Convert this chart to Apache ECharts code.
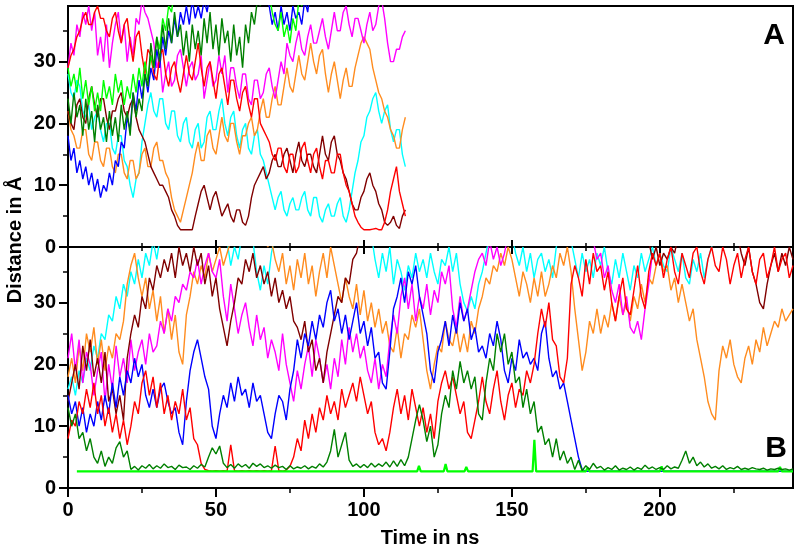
<!DOCTYPE html>
<html><head><meta charset="utf-8">
<script src="https://cdn.jsdelivr.net/npm/echarts@6/dist/echarts.min.js"></script>
<style>html,body{margin:0;padding:0;background:#fff}#c{width:800px;height:552px}</style>
</head><body><div id="c"></div>
<script>
// ---- sampling grids (ns) ----
const topTime = []; for (let i = 0; i <= 114; i++) topTime.push(i);
const botTime = []; for (let i = 0; i <= 196; i++) botTime.push(i * 1.25);

// ---- panel A values (Å), one every 1 ns (values above 39 run off the top of the frame) ----
const aBlue = [18,14,16,12,14,11,13,10,12,9, 11,8,10,9,12,10,14,13,17,16, 21,19,25,22,27,24,28,25,29,27, 32,29,34,31,35,33,37,34,38,36, 39,36,40,37,39,37,40,38,41,40, 43,42,44,43,45,44,46,45,46,45, 45,44,46,44,43,42,43,40,39,36, 38,35,39,36,38,35,39,37,38,36, 40,38,42,41,44,43,45,44,46,45, 46,45,46,45,46,45,46,45,46,45, 46,45,46,45,46,45,46,45,46,45, 46,45,46,45,46];
const aDkGreen = [24,20,25,21,23,18,24,19,22,17, 23,19,21,17,22,18,21,17,23,19, 22,18,25,21,24,22,28,26,33,29, 34,30,36,32,37,33,38,34,36,31, 35,30,36,32,35,31,37,33,38,32, 36,31,37,33,35,30,36,31,34,29, 36,33,38,36,40,39,43,42,44,43, 45,44,45,44,45,44,45,44,45,44, 45,44,45,44,45,44,45,44,45,44, 45,44,45,44,45,44,45,44,45,44, 45,44,45,44,45,44,45,44,45,44, 45,44,45,44,45];
const aLime = [29,26,28,25,29,24,27,23,26,22, 25,22,27,24,26,23,28,25,27,23, 26,24,28,25,29,26,30,27,31,29, 34,32,37,35,39,38,42,41,44,43, 45,44,45,44,45,44,45,44,45,44, 45,44,45,44,45,44,45,44,45,44, 45,44,45,44,45,44,45,44,41,38, 36,35,38,34,36,33,37,35,40,39, 43,44,45,45,45,45,45,45,45,45, 45,45,45,45,45,45,45,45,45,45, 45,45,45,45,45,45,45,45,45,45, 45,45,45,45,45];
const aMagenta = [29,33,31,36,34,38,36,39,35,38, 31,34,30,36,29,33,36,38,33,36, 30,34,31,37,36,40,38,37,35,33, 29,31,25,28,30,26,27,31,32,29, 26,29,30,27,28,31,24,27,30,26, 27,31,28,31,25,29,29,26,24,28, 28,24,23,27,27,24,25,28,29,26, 24,27,30,28,33,31,30,33,35,32, 31,34,36,33,33,35,37,34,32,35, 38,35,35,38,39,36,34,37,37,35, 33,36,38,35,36,39,40,37,33,30, 30,32,32,34,35];
const aRed = [29,31,32,34,35,37,38,36,36,38, 39,37,37,35,34,37,38,35,33,36, 37,33,30,34,35,31,28,32,31,28, 27,31,32,28,26,29,30,27,25,28, 31,28,27,30,33,29,26,29,30,27, 24,28,29,26,23,27,27,24,22,25, 26,23,21,24,24,20,19,18,17,15, 14,16,16,13,12,15,15,12,13,16, 17,14,12,15,16,13,11,14,14,12, 12,15,15,12,10,9,7,5,4,3.2, 2.8,2.8,2.8,2.9,3,2.8,2.8,4,6,9, 11,13,9,7,5];
const aCyan = [28,25,24,27,26,22,21,23,19,21, 22,19,17,20,20,16,15,18,18,14, 13,10,8,11,12,17,20,23,25,22, 21,24,24,20,19,22,22,18,17,20, 21,17,16,19,20,16,17,21,22,19, 19,22,24,20,18,21,22,18,16,19, 20,16,15,18,19,15,14,12,10,8, 6,8,9,6,5,7,8,6,6,8, 9,6,5,8,8,5,4,6,7,5, 5,7,8,5,4,6,9,12,14,17, 18,21,22,24,25,22,20,22,23,19, 17,19,19,15,13];
const aOrange = [22,19,18,16,16,19,19,15,14,17, 17,14,13,16,16,13,12,15,15,12, 11,14,14,11,12,15,16,13,13,16, 17,14,14,12,11,8,6,5,4,6, 8,10,12,15,17,14,14,18,19,16, 15,18,21,18,17,20,20,17,15,18, 18,20,21,18,19,22,24,21,21,24, 26,23,23,26,29,26,25,28,31,28, 27,30,33,30,28,31,32,28,25,28, 30,27,24,27,29,26,26,29,31,33, 34,33,32,29,27,25,24,22,21,19, 18,16,16,19,21];
const aMaroon = [22,20,19,23,24,21,20,24,26,23, 21,24,24,21,19,22,22,24,25,22, 21,23,24,21,19,18,17,15,13,12, 11,10,10,9,8,6,5,3.5,2.8,2.8, 2.8,2.8,2.8,5,7,9,10,8,6,8, 9,7,5,6,7,5,4,6,6,4, 3.5,5,8,10,11,12,13,11,12,14, 15,13,13,15,16,14,12,15,17,14, 13,15,15,13,12,15,18,15,14,17, 18,15,14,12,11,9,7,6,6,8, 9,11,12,10,9,7,6,4,3.5,4, 5,3.5,3,5,6];

// ---- panel B values (Å), one every 1.25 ns (8 per 10 ns) ----
const bDkGreen = [13,10,12,8,9,6,8,5, 4,6,3.5,5,4,6.5,7.5,5, 6,3,3.5,2.9,3.6,3.2,3.8,3.1, 3.6,3.2,3.9,3.3,3.5,3,3.7,3.3, 3.4,3,3.6,3.2,3.8,3.4,5,6.5, 5.5,6.8,4,3.3,3.8,3.2,3.9,3.4, 3.8,3.2,4,3.5,3.9,3.3,3.6,3.2, 3.7,3.3,3.5,3,3.6,3.1,3.4,3.2, 3.6,3.1,3.5,3.2,3.9,3.4,4.2,6, 9.5,5,7,9,4.5,3.5,3.9,3.3, 3.8,3.3,4,3.4,3.9,3.5,4.2,3.4, 4.4,3.5,4.6,3.6,5,8,11,13.5, 11,7.5,10,5,7,12,15,13, 19,16,20.5,17,19,16,18,12, 11,17,21,19,25,22,25,20, 22,17,18,13,16,12,14,9, 10,7,8,5,8,4.5,6,4, 5,3,4.5,2.8,3.6,3,4,3.2, 3.5,2.9,3.3,3,3.6,2.9,3.2,3, 3.4,2.9,3.3,3,3.7,3.1,3.4,3, 3.3,3,3.6,3.1,3.4,3.2,4.5,6, 4,5,3.6,4.2,3.4,3.9,3.2,3.5, 3.1,3.6,3,3.3,3.1,3.5,3,3.2, 3,3.3,3.1,3,3.2,2.9,3.1,3, 3.2,3,3.1,2.9,3.1];
const bBlue = [15,12,14,10,13,9,12,10, 14,11,15,12,17,13,18,15, 19,17,21,18,20,15,13,16, 13,16,17,14,12,13,9,7, 14,19,22,24,21,18,16,10, 8,12,15,13,17,14,18,15, 16,13,17,14,15,12,9,8, 12,15,14,11,16,19,24,21, 25,23,27,24,28,26,30,32, 27,29,25,28,24,27,30,25, 27,23,26,21,22,17,16,22, 29,31,34,30,35,33,36,31, 28,25,19,17,22,24,27,23, 28,25,30,27,29,24,26,22, 23,21,25,23,27,24,19,17, 21,19,24,21,22,20,21,19, 25,27,21,18,19,16,17,14, 11,8,5,3,2.7,2.7,2.7,2.7, 2.7,2.7,2.7,2.7,2.7,2.7,2.7,2.7, 2.7,2.7,2.7,2.7,2.7,2.7,2.7,2.7, 2.7,2.7,2.7,2.7,2.7,2.7,2.7,2.7, 2.7,2.7,2.7,2.7,2.7,2.7,2.7,2.7, 2.7,2.7,2.7,2.7,2.7,2.7,2.7,2.7, 2.7,2.7,2.7,2.7,2.7,2.7,2.7,2.7, 2.7,2.7,2.7,2.7,2.7];
const bRed = [8,11,10,14,12,16,13,17, 12,15,10,13,9,12,8,11, 7,10,14,12,17,19,15,18, 13,17,12,15,11,14,12,16, 11,13,8,7,4,3,2.8,2.7, 2.8,2.7,2.8,2.7,7,2.8,2.7,2.8, 2.7,2.8,2.7,2.8,2.7,2.8,2.7,2.8, 6.8,2.8,2.7,2.9,3.5,5,8,6, 11,8,12,9,13,11,15,12, 14,11,16,13,15,17,14,18, 15,12,14,9,7,8,6,9, 13,16,12,15,11,16,13,10, 13,9,12,8,14,17,19,16, 18,15,12,14,9,8,11,14, 18,14,12,16,19,14,11,15, 17,13,16,15,19,17,20,25, 29,26,30,24,23,18,17,21, 33,36,34,31,37,33,38,35, 36,32,35,30,27,31,34,29, 28,32,36,31,29,35,38,36, 38,34,37,39,35,33,38,36, 34,38,39,35,33,37,39,36, 35,39,37,33,36,38,34,37, 39,35,33,37,38,34,36,39, 35,37,38,34,36];
const bMagenta = [21,25,19,24,17,22,20,15, 19,22,14,20,16,23,18,21, 17,24,19,22,24,20,25,22, 23,27,25,29,27,31,30,33, 32,35,34,37,33,36,38,35, 34,37,31,27,33,29,25,28, 30,26,23,28,24,26,21,24, 22,19,25,20,17,14,19,16, 20,23,18,24,21,17,20,16, 21,18,24,20,26,22,25,21, 23,19,17,21,16,20,18,24, 28,25,31,34,29,33,27,31, 29,33,28,32,30,35,33,36, 29,26,31,27,29,32,35,37, 38,36,40,37,39,36,38,41, 42,43,42,43,42,43,42,43, 42,43,42,43,42,43,42,43, 42,43,42,43,42,43,40,37, 38,34,36,32,30,33,28,31, 26,25,27,24,29,33,38,null];
const bCyan = [16,18,15,19,17,21,19,23, 21,25,24,28,27,31,29,33, 31,35,33,37,34,38,36,40, 37,41,42,43,42,43,42,43, 42,43,42,43,42,43,42,43, 42,43,42,40,36,39,37,41, 42,43,40,35,32,36,33,38, 41,43,42,43,42,43,42,43, 42,43,42,43,42,43,42,43, 42,43,42,43,42,43,42,43, 42,43,41,37,34,38,35,39, 33,37,35,32,36,34,38,35, 37,34,38,35,33,37,36,39, 35,38,33,30,28.6,31,29,33, 35,38,41,42,43,42,43,42, 41,38,36,39,35,38,34,37, 38,35,37,34,39,41,43,42, 40,37,34,38,35,37,34,38, 36,39,35,33,37,34,38,35, 32,36,34,38,35,37,39,36, 38,36,35,39,37,35,38,34, 33,37,35,38,34,37,39,42, 43];
const bOrange = [18,21,17,23,19,25,22,26, 20,24,19,23,21,25,24,27, 33,36,38,34,31,34,29,32, 27,31,25,29,24,28,22,20, 28,31,35,33,36,34,38,35, 37,39,36,38,40,42,43,42, 43,42,43,42,43,41,39,40, 37,35,38,33,36,32,37,34, 38,33,36,31,35,38,34,39, 36,33,30,34,31,29,33,28, 32,27,30,26,29,25,27,23, 22,26,21,25,24,28,26,29, 24,19,16,20,23,22,27,24, 23,26,22,25,22,27,25,29, 31,34,33,36,35,38,36,39, 37,34,31,35,33,30,34,31, 35,31,33,36,34,38,36,39, 35,29,24,19,22,27,25,29, 25,28,26,30,27,31,28,30, 27,31,29,33,30,34,33,36, 38,35,36,32,34,30,33,30, 27,29,24,21,18,14,12,11, 19,23,21,24,20,18,17,21, 23,20,24,22,26,23,25,27, 26,29,27,28,29];
const bMaroon = [14,17,20,16,23,19,24,18, 21,17,22,14,16,12,15,11, 21,25,28,26,31,29,34,32, 36,34,37,35,38,34,39,36, 38,35,39,36,38,33,36,31, 34,29,26,23,27,30,34,33, 37,35,38,34,36,33,35,31, 34,30,32,29,31,27,26,24, 27,22,24,19,21,17,22,25, 28,31,30,34,33,37,38,41, 42,43,42,43,42,43,42,43, 42,43,42,43,42,43,42,43, 42,43,42,43,42,43,42,43, 42,43,42,43,42,43,42,43, 42,43,42,43,42,43,42,43, 42,43,42,43,42,43,42,43, 42,43,42,43,42,43,42,43, 42,43,42,43,42,43,42,43, 42,43,42,43,42,43,42,43, 42,43,42,43,42,40,37,39, 36,38,37,39,38,41,42,43, 42,43,42,43,42,43,42,43, 42,43,42,43,42,41,38,36, 39,35,33,30,29,33,36,38, 35,38,36,39,37];
// bright green baseline of panel B (time, value)
const bLimeTime = [3, 118, 118.6, 119.2, 127, 127.6, 128.2, 134, 134.6, 135.2, 157, 157.6, 158.2, 175, 175.6, 176.2, 200, 200.6, 201.2, 240, 240.6, 241.2, 245];
const bLimeVal  = [2.7, 2.7, 3.6, 2.7, 2.7, 3.9, 2.7, 2.7, 3.4, 2.7, 2.7, 7.8, 2.7, 2.7, 3.3, 2.7, 2.7, 3.5, 2.7, 2.7, 3.4, 2.7, 2.7];

// ---- ticks ----
const xMajor = [0, 50, 100, 150, 200];
const xMinor = [25, 75, 125, 175, 225];
const yMajor = [0, 10, 20, 30];
const yMinor = [5, 15, 25, 35];

const COLORS = {blue:'#0000ff', red:'#ff0000', lime:'#00ff00', dkgreen:'#008000', magenta:'#ff00ff', cyan:'#00ffff', orange:'#ff8c1f', maroon:'#800000'};
const FONT = '"Liberation Sans", Arial, sans-serif';
const LW = 1.4;

function pairs(times, vals) { const out = []; for (let i = 0; i < vals.length; i++) out.push([times[i], vals[i]]); return out; }
function line(name, color, times, vals, xi, yi, w) {
  return {name, type:'line', xAxisIndex:xi, yAxisIndex:yi, data:pairs(times, vals), showSymbol:false, symbol:'none',
    lineStyle:{color, width:w || LW}, itemStyle:{color}, clip:true, connectNulls:false, animation:false, silent:true};
}
function xAx(grid, pos, vals, inside, len, w, labels) {
  return {type:'value', gridIndex:grid, position:pos, min:0, max:245,
    axisLine:{show:true, onZero:false, lineStyle:{color:'#000', width:2}},
    axisTick:{show:true, inside, length:len, customValues:vals, lineStyle:{color:'#000', width:w}},
    axisLabel: labels ? {show:true, customValues:xMajor, color:'#000', fontSize:20, fontWeight:'bold', fontFamily:FONT, margin:12} : {show:false},
    splitLine:{show:false}, minorTick:{show:false}};
}
function yAx(grid, vals, len, w, labels) {
  return {type:'value', gridIndex:grid, position:'left', min:0, max:39,
    axisLine:{show:true, onZero:false, lineStyle:{color:'#000', width:2}},
    axisTick:{show:true, inside:false, length:len, customValues:vals, lineStyle:{color:'#000', width:w}},
    axisLabel: labels ? {show:true, customValues:yMajor, color:'#000', fontSize:20, fontWeight:'bold', fontFamily:FONT, margin:12} : {show:false},
    splitLine:{show:false}};
}

const chart = echarts.init(document.getElementById('c'), null, {renderer:'canvas'});
chart.setOption({
  animation:false,
  backgroundColor:'#fff',
  grid:[
    {left:68, top:6, width:725, height:241, show:true, borderColor:'#000', borderWidth:2, backgroundColor:'transparent', containLabel:false},
    {left:68, top:247, width:725, height:241, show:true, borderColor:'#000', borderWidth:2, backgroundColor:'transparent', containLabel:false}
  ],
  xAxis:[
    xAx(0,'bottom',xMajor,true,7,2,false),
    xAx(0,'bottom',xMinor,true,4,1.5,false),
    xAx(1,'bottom',xMajor,false,9,2,true),
    xAx(1,'bottom',xMinor,false,5,1.5,false),
    xAx(1,'top',xMajor,true,7,2,false),
    xAx(1,'top',xMinor,true,4,1.5,false)
  ],
  yAxis:[
    yAx(0,yMajor,9,2,true),
    yAx(0,yMinor,5,1.5,false),
    yAx(1,yMajor,9,2,true),
    yAx(1,yMinor,5,1.5,false)
  ],
  series:[
    line('A cyan', COLORS.cyan, topTime, aCyan, 0, 0),
    line('A orange', COLORS.orange, topTime, aOrange, 0, 0),
    line('A magenta', COLORS.magenta, topTime, aMagenta, 0, 0),
    line('A maroon', COLORS.maroon, topTime, aMaroon, 0, 0),
    line('A blue', COLORS.blue, topTime, aBlue, 0, 0),
    line('A red', COLORS.red, topTime, aRed, 0, 0),
    line('A lime', COLORS.lime, topTime, aLime, 0, 0),
    line('A dkgreen', COLORS.dkgreen, topTime, aDkGreen, 0, 0),
    line('B cyan', COLORS.cyan, botTime, bCyan, 2, 2),
    line('B orange', COLORS.orange, botTime, bOrange, 2, 2),
    line('B magenta', COLORS.magenta, botTime, bMagenta, 2, 2),
    line('B maroon', COLORS.maroon, botTime, bMaroon, 2, 2),
    line('B blue', COLORS.blue, botTime, bBlue, 2, 2),
    line('B red', COLORS.red, botTime, bRed, 2, 2),
    line('B lime', COLORS.lime, bLimeTime, bLimeVal, 2, 2, 2.2),
    line('B dkgreen', COLORS.dkgreen, botTime, bDkGreen, 2, 2)
  ],
  graphic:[
    {type:'text', x:774, y:36, style:{text:'A', font:'bold 30px ' + FONT, fill:'#000', align:'center', verticalAlign:'middle'}},
    {type:'text', x:776, y:449, style:{text:'B', font:'bold 30px ' + FONT, fill:'#000', align:'center', verticalAlign:'middle'}},
    {type:'text', x:15, y:240, rotation:Math.PI/2, style:{text:'Distance in Å', font:'bold 20px ' + FONT, fill:'#000', align:'center', verticalAlign:'middle'}},
    {type:'text', x:430, y:538, style:{text:'Time in ns', font:'bold 20px ' + FONT, fill:'#000', align:'center', verticalAlign:'middle'}}
  ]
});
</script></body></html>
